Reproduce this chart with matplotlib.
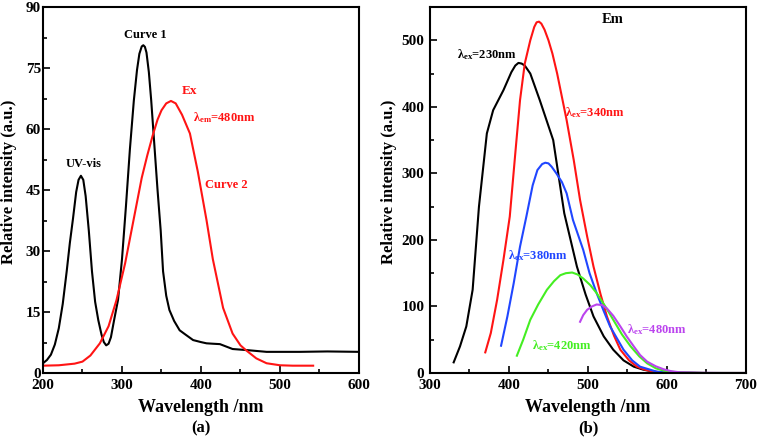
import matplotlib.pyplot as plt
from matplotlib.ticker import MultipleLocator

plt.rcParams['font.family'] = 'Liberation Serif'
plt.rcParams['font.weight'] = 'bold'
plt.rcParams['mathtext.fontset'] = 'custom'
plt.rcParams['mathtext.rm'] = 'Liberation Serif:bold'
plt.rcParams['mathtext.it'] = 'Liberation Serif:bold'
plt.rcParams['mathtext.bf'] = 'Liberation Serif:bold'

# (a) UV-vis absorption (Curve 1) and excitation (Curve 2)
uv_x = [200, 205, 210, 215, 220, 225, 230, 234, 238, 242, 245, 248, 251, 254, 258, 262, 266, 270,
        274, 277, 280, 283, 286, 290, 295, 300, 305, 310, 315, 319, 322, 325, 327, 329, 331,
        334, 337, 341, 345, 349, 352, 356, 360, 366, 373, 380, 390,
        400, 407, 415, 424, 432, 440, 460, 483, 525, 560, 600]
uv_y = [2.4, 3.2, 4.5, 7, 11, 17, 25, 32, 38, 44.5, 47.5, 48.5, 47.5, 43.5, 35, 25, 17.5, 13,
        9.5, 7.6, 6.8, 7.2, 8.8, 13, 18, 28, 41, 55, 67, 74.5, 78.5, 80.3, 80.6, 80.2, 78.8,
        74, 67, 56, 45, 35, 25, 19, 15.5, 12.8, 10.5, 9.5, 8.1,
        7.6, 7.3, 7.2, 7.1, 6.5, 5.9, 5.6, 5.2, 5.2, 5.3, 5.2]

ex_x = [200, 220, 240, 250, 260, 272, 283, 293, 304, 314, 325, 332, 339, 345, 350, 356, 362, 368,
        376, 386, 396, 407, 415, 428, 440, 450, 457, 470, 483, 500, 516, 542]
ex_y = [1.8, 1.9, 2.3, 2.8, 4.3, 7.3, 11.5, 17.9, 27, 37, 48, 53.5, 58.5, 62.3, 64.6, 66.3, 66.9,
        66.3, 63.5, 58.9, 49.5, 37.6, 28, 16, 9.7, 6.8, 5.6, 3.6, 2.4, 1.9, 1.8, 1.8]

# (b) emission spectra
b230_x = [330, 338, 346, 354, 362, 372, 380, 393, 403, 408, 412, 416, 420, 427, 439, 456, 470, 486,
          497, 507, 520, 532, 545, 558, 570, 583, 600, 650, 700]
b230_y = [16, 40, 70, 125, 250, 360, 395, 425, 452, 462, 466, 465, 462, 450, 410, 350, 240, 160,
          118, 85, 55, 35, 19, 9.5, 5, 2, 0.5, 0, 0]

b340_x = [370, 377, 385, 393, 401, 408, 414, 420, 427, 432, 435, 438, 441, 445, 450, 455, 461, 473,
          482, 490, 499, 507, 516, 524, 533, 541, 552, 562, 572, 583, 600, 650, 700]
b340_y = [31, 60, 110, 170, 235, 330, 410, 465, 500, 520, 527, 528, 525, 516, 500, 480, 450, 380,
          320, 260, 205, 160, 118, 85, 56, 35, 19, 9.5, 5, 2, 0.5, 0, 0]

b380_x = [390, 398, 406, 414, 422, 430, 436, 442, 446, 450, 454, 460, 467, 473, 481, 494, 502,
          511, 520, 528, 545, 556, 566, 587, 610, 650, 700]
b380_y = [41, 85, 135, 190, 235, 282, 305, 314, 316, 315, 310, 300, 287, 270, 230, 185, 150,
          120, 93, 70, 35, 19, 9.5, 2, 0.5, 0, 0]

b420_x = [410, 418, 427, 437, 448, 457, 465, 472, 480, 487, 494, 503, 511, 522, 532, 543,
          554, 565, 575, 586, 596, 617, 650, 700]
b420_y = [26, 50, 80, 103, 125, 138, 147, 150, 151, 148, 142, 132, 120, 100, 80, 58,
          40, 25, 14.5, 7, 3.5, 0.5, 0, 0]

b480_x = [490, 494, 499, 505, 511, 518, 524, 532, 541, 549, 558, 566, 575, 586, 596, 606,
          617, 640, 670, 700]
b480_y = [77, 87, 95, 100, 103, 102, 97, 86, 70, 55, 40, 27, 17, 10, 5.5, 2.5,
          1, 0.3, 0, 0]

RED = '#ff1414'
BLUE = '#2046ff'
GREEN = '#44ee22'
PURPLE = '#bb44ee'


def style_axes(ax, ypad, ylab_x):
    for s in ax.spines.values():
        s.set_linewidth(1.5)
    ax.tick_params(which='both', direction='in', top=False, right=False,
                   labelsize=11, width=1.2)
    ax.tick_params(which='major', length=5)
    ax.tick_params(which='minor', length=3)
    ax.tick_params(axis='y', pad=ypad)
    ax.tick_params(axis='x', pad=4)
    for lab in ax.get_xticklabels() + ax.get_yticklabels():
        lab.set_fontweight('bold')
    ax.set_xlabel('Wavelength /nm', fontsize=13, fontweight='bold', va='center')
    ax.xaxis.set_label_coords(0.5, -34 / 366)
    ax.set_ylabel('Relative intensity (a.u.)', fontsize=12, fontweight='bold', va='center')
    ax.yaxis.set_label_coords(ylab_x, 0.522)


fig = plt.figure(figsize=(7.57, 4.38), dpi=100)
ax1 = fig.add_axes([0.0568, 0.1484, 0.4174, 0.8356])
ax2 = fig.add_axes([0.568, 0.1484, 0.4174, 0.8356])

# panel (a)
ax1.plot(uv_x, uv_y, color='black', lw=1.5)
ax1.plot(ex_x, ex_y, color=RED, lw=1.5)
ax1.set_xlim(200, 600)
ax1.set_ylim(0, 90)
ax1.xaxis.set_major_locator(MultipleLocator(100))
ax1.xaxis.set_minor_locator(MultipleLocator(50))
ax1.yaxis.set_major_locator(MultipleLocator(15))
ax1.yaxis.set_minor_locator(MultipleLocator(7.5))
style_axes(ax1, 1.5, -34 / 316)
ax1.text(329, 83.1, 'Curve 1', fontsize=9, fontweight='bold', ha='center', va='center')
ax1.text(252, 51.4, 'UV-vis', fontsize=9, fontweight='bold', ha='center', va='center')
ax1.text(386, 69.3, 'Ex', fontsize=9.5, fontweight='bold', color=RED, ha='center', va='center')
ax1.text(390, 62.7, r'$\lambda_{em}$=480nm', fontsize=9, color=RED, va='center')
ax1.text(405, 46.2, 'Curve 2', fontsize=9, fontweight='bold', color=RED, va='center')
ax1.text(0.5, -55 / 366, '(a)', transform=ax1.transAxes, fontsize=12, fontweight='bold',
         ha='center', va='center')

# panel (b)
ax2.plot(b230_x, b230_y, color='black', lw=1.5)
ax2.plot(b340_x, b340_y, color=RED, lw=1.5)
ax2.plot(b380_x, b380_y, color=BLUE, lw=1.5)
ax2.plot(b420_x, b420_y, color=GREEN, lw=1.5)
ax2.plot(b480_x, b480_y, color=PURPLE, lw=1.5)
ax2.set_xlim(300, 700)
ax2.set_ylim(0, 550)
ax2.xaxis.set_major_locator(MultipleLocator(100))
ax2.xaxis.set_minor_locator(MultipleLocator(50))
ax2.yaxis.set_major_locator(MultipleLocator(100))
ax2.yaxis.set_minor_locator(MultipleLocator(50))
style_axes(ax2, 4, -41 / 316)
ax2.text(531.6, 530.5, 'Em', fontsize=10.5, fontweight='bold', ha='center', va='center')
ax2.text(334, 479, r'$\lambda_{ex}$=230nm', fontsize=9, color='black', va='center')
ax2.text(471, 390.7, r'$\lambda_{ex}$=340nm', fontsize=9, color=RED, va='center')
ax2.text(398.7, 177, r'$\lambda_{ex}$=380nm', fontsize=9, color=BLUE, va='center')
ax2.text(429, 40.6, r'$\lambda_{ex}$=420nm', fontsize=9, color=GREEN, va='center')
ax2.text(549, 64.6, r'$\lambda_{ex}$=480nm', fontsize=9, color=PURPLE, va='center')
ax2.text(0.5, -55 / 366, '(b)', transform=ax2.transAxes, fontsize=12, fontweight='bold',
         ha='center', va='center')

fig.savefig('out.png', dpi=100)
